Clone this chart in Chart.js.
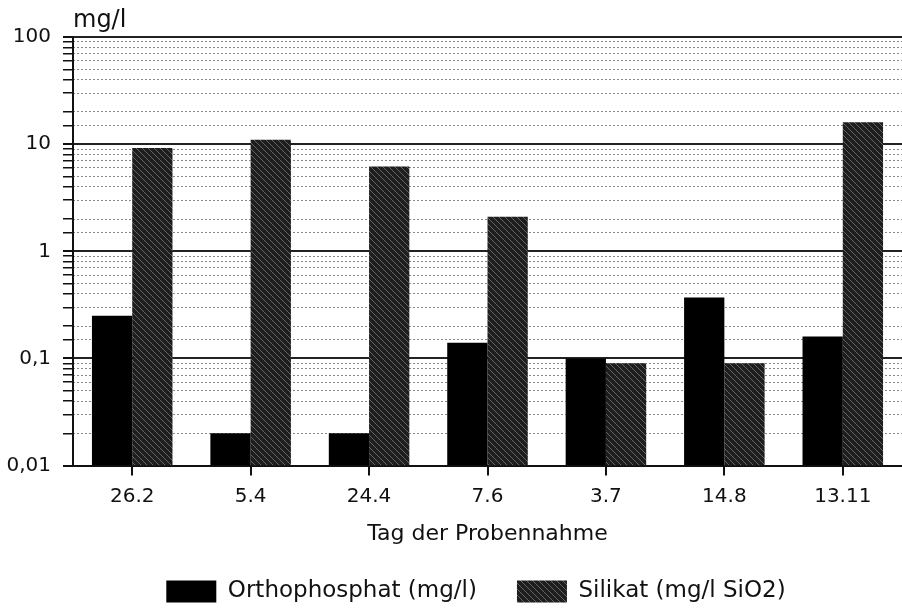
<!DOCTYPE html>
<html>
<head>
<meta charset="utf-8">
<script src="https://cdn.jsdelivr.net/npm/chart.js@4.4.1/dist/chart.umd.min.js"></script>
<style>
  html, body { margin: 0; padding: 0; background: #fff; }
  #wrap { width: 902px; height: 611px; position: relative; }
</style>
</head>
<body>
<div id="wrap"><canvas id="chart"></canvas></div>
<script>
// --- Data ---
const categories = ['26.2', '5.4', '24.4', '7.6', '3.7', '14.8', '13.11'];
const orthophosphat = [0.25, 0.02, 0.02, 0.14, 0.10, 0.37, 0.16];
const silikat = [9.2, 11, 6.2, 2.1, 0.09, 0.09, 16];
const yMajorTicks = [0.01, 0.1, 1, 10, 100];
const yMajorLabels = ['0,01', '0,1', '1', '10', '100'];

const FONT = 'DejaVu Sans';
const INK = '#111';
const LEGEND_DX = 22;
const LEGEND_DY = -11;

// hatched fill like the scanned Silikat bars
function hatch() {
    const c = document.createElement('canvas');
    c.width = 6; c.height = 6;
    const g = c.getContext('2d');
    g.fillStyle = '#1e1e1e';
    g.fillRect(0, 0, 6, 6);
    g.strokeStyle = '#646464';
    g.lineWidth = 1;
    g.beginPath();
    g.moveTo(0, 0); g.lineTo(6, 6);
    g.moveTo(-3, 3); g.lineTo(3, 9);
    g.moveTo(3, -3); g.lineTo(9, 3);
    g.stroke();
    return g.createPattern(c, 'repeat');
}

function isMajor(v) {
    const e = Math.log10(v);
    return Math.abs(e - Math.round(e)) < 1e-6;
}

function majorLabel(v) {
    const i = yMajorTicks.findIndex(t => Math.abs(Math.log10(t) - Math.log10(v)) < 1e-6);
    return i >= 0 ? yMajorLabels[i] : '';
}

const unitLabel = {
    id: 'unitLabel',
    afterDraw(chart) {
        const ctx = chart.ctx;
        ctx.save();
        ctx.font = `24px "${FONT}"`;
        ctx.fillStyle = INK;
        ctx.textBaseline = 'alphabetic';
        ctx.fillText('mg/l', chart.chartArea.left, 27);
        ctx.restore();
    }
};

const legendShift = {
    id: 'legendShift',
    afterLayout(chart) {
        const lg = chart.legend;
        lg.left += LEGEND_DX;
        lg.right += LEGEND_DX;
        lg.top += LEGEND_DY;
        lg.bottom += LEGEND_DY;
    }
};

const pattern = hatch();

new Chart(document.getElementById('chart'), {
    type: 'bar',
    data: {
        labels: categories,
        datasets: [
            { label: 'Orthophosphat (mg/l)', data: orthophosphat, backgroundColor: '#000', borderWidth: 0 },
            { label: 'Silikat (mg/l SiO2)', data: silikat, backgroundColor: pattern, borderWidth: 0 }
        ]
    },
    plugins: [unitLabel, legendShift],
    options: {
        responsive: true,
        maintainAspectRatio: false,
        animation: false,
        layout: { padding: { top: 37, left: 0, right: -6, bottom: -13 } },
        datasets: { bar: { barPercentage: 1, categoryPercentage: 0.68 } },
        plugins: {
            tooltip: { enabled: false },
            legend: {
                position: 'bottom',
                labels: {
                    color: INK,
                    font: { family: FONT, size: 23 },
                    boxWidth: 50, boxHeight: 22,
                    padding: 40
                }
            }
        },
        scales: {
            x: {
                grid: { display: true, drawOnChartArea: false, offset: false, color: INK, tickLength: 10, lineWidth: 2 },
                border: { display: true, color: INK, width: 2 },
                ticks: { color: INK, font: { family: FONT, size: 20 }, padding: 9, maxRotation: 0 },
                title: { display: true, text: 'Tag der Probennahme', color: INK, font: { family: FONT, size: 22 }, padding: { top: 3, bottom: 4 } }
            },
            y: {
                type: 'logarithmic',
                min: 0.01, max: 100,
                afterFit(s) { s.width = 73; },
                grid: {
                    color: c => isMajor(c.tick.value) ? '#222' : 'rgba(0,0,0,0)',
                    tickColor: INK,
                    lineWidth: c => isMajor(c.tick.value) ? 2 : 1.5,
                    tickLength: 10
                },
                border: { display: true, color: INK, width: 2 },
                ticks: {
                    color: INK,
                    font: { family: FONT, size: 20 },
                    padding: 12,
                    autoSkip: false,
                    callback: v => isMajor(v) ? majorLabel(v) : ''
                }
            },
            yMinor: {
                type: 'logarithmic',
                position: 'left',
                min: 0.01, max: 100,
                afterFit(s) { s.width = 0; },
                grid: {
                    color: c => isMajor(c.tick.value) ? 'rgba(0,0,0,0)' : '#888',
                    lineWidth: 1,
                    drawTicks: false
                },
                border: { display: false, dash: [2, 2] },
                ticks: { display: false, autoSkip: false }
            }
        }
    }
});
</script>
</body>
</html>
